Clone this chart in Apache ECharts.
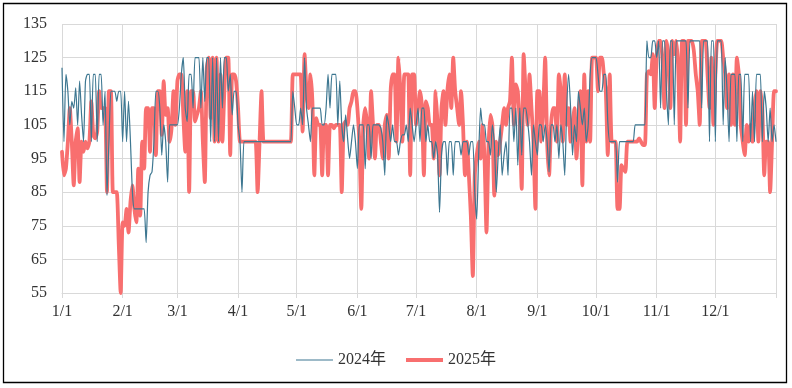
<!DOCTYPE html>
<html><head><meta charset="utf-8">
<script src="https://cdn.jsdelivr.net/npm/echarts@6/dist/echarts.min.js"></script>
<style>html,body{margin:0;padding:0;background:#fff}#c{width:792px;height:388px}</style>
</head><body><div id="c"></div>
<script>
const monthLengths = [31,28,31,30,31,30,31,31,30,31,30,31];
const yMin = 55, yMax = 135, yStep = 10;
const seriesNames = ['2024年', '2025年'];

const values2024 = [
122,100,120,115,105,112,110,116,105,118,
108,100,118,120,120,100,120,120,100,120,
120,105,115,84,100,115,115,115,112,115,
115,100,115,100,112,100,85,80,80,80,
80,80,80,70,85,90,91,100,115,115,
110,96,105,100,88,105,105,105,105,105,
110,120,125,110,106,120,120,110,125,125,
125,110,125,112,125,125,100,125,100,125,
100,125,110,125,125,115,120,108,115,115,
105,100,85,100,100,100,100,100,100,100,
100,100,100,100,100,100,100,100,100,100,
100,100,100,100,100,100,100,100,115,110,
105,105,110,105,125,110,105,100,110,110,
110,110,110,105,105,110,120,110,120,120,
120,105,118,105,100,108,101,95,100,105,
100,92,105,105,105,92,105,105,95,105,
105,105,105,104,100,90,108,105,100,105,
100,100,96,100,102,102,105,100,110,105,
100,105,110,100,110,110,100,105,100,100,
95,100,96,79,96,100,100,90,100,100,
90,100,100,100,96,100,100,100,96,100,
100,85,77,96,110,105,105,100,100,96,
105,100,85,96,105,90,96,100,90,110,
110,100,110,93,110,96,110,110,106,100,
90,105,100,96,105,105,100,105,100,91,
105,105,100,105,95,105,100,90,110,120,
110,96,105,100,115,110,105,110,100,105,
120,125,125,125,120,115,115,120,120,106,
100,100,100,100,88,100,100,100,100,100,
100,100,100,105,105,105,105,105,105,130,
125,125,130,130,125,130,110,130,130,115,
105,130,130,105,130,130,130,130,130,130,
110,130,130,130,130,130,130,110,130,130,
130,100,130,130,100,130,130,130,105,125,
115,100,120,120,120,100,120,120,100,120,
120,120,100,115,100,120,120,120,100,115,
110,100,110,100,105,100
];

const values2025 = [
97,90,92,100,110,100,87,100,104,88,
100,97,100,98,100,112,102,101,103,115,
110,110,110,85,115,115,85,85,85,70,
55,76,75,80,73,82,87,80,76,92,
78,100,92,110,110,97,110,110,96,115,
115,102,118,108,110,100,104,115,105,118,
120,120,108,97,115,85,115,115,106,108,
110,115,100,88,122,125,107,125,100,125,
100,120,100,115,125,125,96,120,120,118,
110,100,100,100,100,100,100,100,100,100,
85,100,115,100,100,100,100,100,100,100,
100,100,100,100,100,100,100,100,120,120,
120,120,120,103,126,115,110,120,112,90,
107,105,105,90,105,105,90,105,105,104,
105,105,105,85,105,106,105,110,112,115,
115,110,100,80,105,110,105,95,115,105,
95,105,105,100,95,105,108,95,115,120,
120,100,125,115,100,120,120,120,90,120,
120,105,110,115,110,90,112,110,105,105,
95,115,105,90,110,115,105,115,120,110,
125,115,110,105,115,105,90,100,90,78,
60,90,96,100,95,105,95,73,98,108,
105,84,100,96,100,105,110,105,110,112,
125,105,117,115,105,86,126,115,105,120,
110,100,80,115,115,100,110,125,100,90,
105,110,110,100,120,115,100,120,105,110,
100,105,110,95,105,115,87,120,100,115,
100,125,125,125,115,125,125,120,115,96,
120,100,100,100,80,80,93,92,91,100,
100,100,100,100,100,101,100,99,99,120,
121,120,126,110,125,130,130,124,110,130,
126,110,130,126,130,122,100,130,130,105,
130,130,130,127,120,115,105,130,130,130,
120,110,125,105,120,130,130,130,125,120,
110,120,105,120,105,125,120,105,100,96,
105,100,105,100,110,115,100,115,110,90,
100,100,85,100,115,115
];

const categories = [];
monthLengths.forEach(function (n, m) {
  for (let d = 1; d <= n; d++) categories.push((m + 1) + '/' + d);
});
categories.push('1/1');
const lastIdx = categories.length - 1;
function isMonthStart(i) { return categories[i].split('/')[1] === '1'; }

const FONT = "'Liberation Serif','Noto Sans CJK SC',serif";
const GRIDC = '#d9d9d9';
const BLUE = '#3d7791', RED = '#f86f6f';
const thinIcon = 'path://M0,0H37V0.01H0Z M0,6.4H37V7.6H0Z M0,13.99H37V14H0Z';
const thickIcon = 'path://M0,0H37V0.01H0Z M0,5H37V9H0Z M0,13.99H37V14H0Z';

const chart = echarts.init(document.getElementById('c'), null, {renderer: 'canvas'});
chart.setOption({
  animation: false,
  backgroundColor: '#fff',
  graphic: [{
    type: 'rect', shape: {x: 3.5, y: 3.5, width: 783, height: 379},
    style: {fill: 'none', stroke: '#000', lineWidth: 1.3}, silent: true, z: 100
  }],
  grid: {left: 62, right: 16, top: 24, bottom: 95, containLabel: false},
  legend: {
    data: [
      {name: seriesNames[0], icon: thinIcon, itemStyle: {color: BLUE}},
      {name: seriesNames[1], icon: thickIcon, itemStyle: {color: RED}}
    ],
    left: 'center', top: 347,
    itemWidth: 37, itemHeight: 14, itemGap: 20,
    textStyle: {fontFamily: FONT, fontSize: 16, color: '#333'}
  },
  xAxis: {
    type: 'category', data: categories, boundaryGap: false,
    axisLine: {show: true, lineStyle: {color: GRIDC, width: 1}},
    axisTick: {show: true, length: 5, lineStyle: {color: GRIDC},
      interval: function (i) { return isMonthStart(i); }},
    axisLabel: {
      interval: function (i) { return i < lastIdx && isMonthStart(i); },
      fontFamily: FONT, fontSize: 16, color: '#333', margin: 11
    },
    splitLine: {show: true, lineStyle: {color: GRIDC, width: 1},
      interval: function (i) { return isMonthStart(i); }}
  },
  yAxis: {
    type: 'value', min: yMin, max: yMax, interval: yStep,
    axisLine: {show: false}, axisTick: {show: false},
    axisLabel: {fontFamily: FONT, fontSize: 16, color: '#333', margin: 15},
    splitLine: {show: true, lineStyle: {color: GRIDC, width: 1}}
  },
  series: [
    {
      name: seriesNames[0], type: 'line', data: values2024, z: 4,
      showSymbol: false, symbol: 'none', smooth: 0.2,
      itemStyle: {color: BLUE},
      lineStyle: {color: BLUE, width: 1.2, join: 'round'}
    },
    {
      name: seriesNames[1], type: 'line', data: values2025, z: 3,
      showSymbol: false, symbol: 'none', smooth: 0.2,
      itemStyle: {color: RED},
      lineStyle: {color: RED, width: 3.8, join: 'round', cap: 'round'}
    }
  ]
});
</script>
</body></html>
